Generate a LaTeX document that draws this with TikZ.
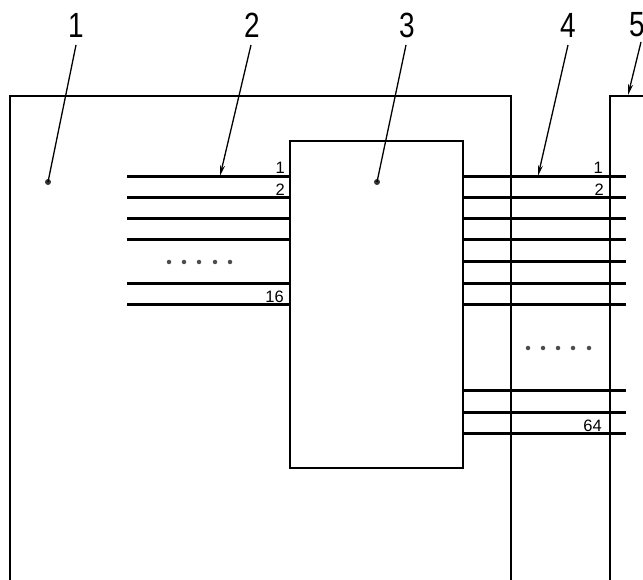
\documentclass[tikz,border=0pt]{standalone}
\usepackage{fontspec}
\setmainfont{Liberation Sans}
\usetikzlibrary{arrows.meta}
\newcommand\bignum[1]{\scalebox{0.8}[1]{\fontsize{35}{35}\selectfont #1}}
\begin{document}
\begin{tikzpicture}[x=1pt,y=-1pt,
  outline/.style={line width=2.5pt},
  wire/.style={line width=3pt},
  leader/.style={line width=1.3pt},
  arr/.style={leader,-{Stealth[length=11pt,width=5pt]}},
  bigno/.style={inner sep=0pt},
  smallno/.style={font=\fontsize{16.5}{16.5}\selectfont, inner sep=0pt, anchor=base east},
  dotm/.style={circle, fill=black!80, inner sep=0pt, minimum size=6pt},
  busdot/.style={circle, fill=black!70, inner sep=0pt, minimum size=4.5pt}]
\useasboundingbox (0,0) rectangle (643,580);
% wires
\foreach \y in {177,198,219,240,284,305} \draw[wire] (127,\y) -- (290,\y);
\foreach \y in {177,198,219,240,262,284,305,390,412,433} \draw[wire] (463,\y) -- (626,\y);
% boxes
\draw[outline] (10,581) -- (10,96) -- (511,96) -- (511,581);
\draw[outline] (610,581) -- (610,96) -- (644,96);
\node[draw, outline, minimum width=173pt, minimum height=327pt, inner sep=0pt] (chip) at (376.5,304.5) {};
% bus dots
\foreach \x in {169,184,199,215,230} \node[busdot] at (\x,262) {};
\foreach \x in {528,543,558,573,589} \node[busdot] at (\x,348) {};
% pin labels
\node[smallno] (p1) at (285,174) {1};
\node[smallno] (p2) at (285,196) {2};
\node[smallno] (p16) at (284,302) {16};
\node[smallno] (q1) at (603,174) {1};
\node[smallno] (q2) at (604,196) {2};
\node[smallno] (q64) at (602,431) {64};
% reference numbers
\node[bigno] (n1) at (76,25) {\bignum{1}};
\node[bigno] (n2) at (252,25) {\bignum{2}};
\node[bigno] (n3) at (407,25) {\bignum{3}};
\node[bigno] (n4) at (568,25) {\bignum{4}};
\node[bigno] (n5) at (637,25) {\bignum{5}};
% leader targets
\node[dotm] (d1) at (48,182) {};
\node[dotm] (d3) at (377,182) {};
\coordinate (t2) at (220,176);
\coordinate (t4) at (538,176);
\coordinate (t5) at (628,95);
\coordinate (s1) at (76,45);
\coordinate (s2) at (251,45);
\coordinate (s3) at (406,45);
\coordinate (s4) at (568,45);
\coordinate (s5) at (641,42);
\draw[leader] (s1) -- (d1.center);
\draw[arr] (s2) -- (t2);
\draw[leader] (s3) -- (d3.center);
\draw[arr] (s4) -- (t4);
\draw[arr] (s5) -- (t5);
\end{tikzpicture}
\end{document}
